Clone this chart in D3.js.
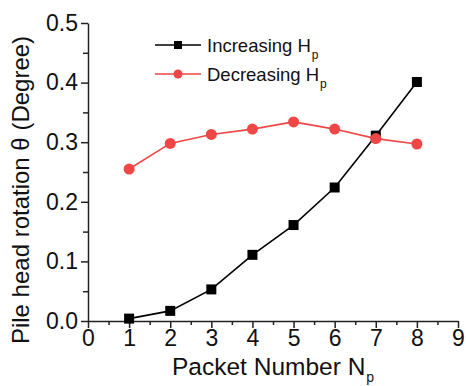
<!DOCTYPE html>
<html>
<head>
<meta charset="utf-8">
<script src="https://cdn.jsdelivr.net/npm/d3@7"></script>
<style>
  body { margin: 0; background: #fff; }
  text { font-family: "Liberation Sans", Arial, sans-serif; fill: #111; }
</style>
</head>
<body>
<svg id="chart" width="466" height="386"></svg>
<script>
// values
const packets = [1, 2, 3, 4, 5, 6, 7, 8];
const increasing = [0.004, 0.017, 0.053, 0.111, 0.161, 0.224, 0.311, 0.401];
const decreasing = [0.255, 0.298, 0.313, 0.322, 0.334, 0.322, 0.306, 0.297];
const xTicks = [0, 1, 2, 3, 4, 5, 6, 7, 8, 9];
const yTicks = [0.0, 0.1, 0.2, 0.3, 0.4, 0.5];

const svg = d3.select("#chart");
const mLeft = 88, mRight = 458, mTop = 23, mBottom = 321;

const x = d3.scaleLinear().domain([0, 9]).range([mLeft, mRight]);
const y = d3.scaleLinear().domain([0, 0.5]).range([mBottom, mTop]);

const red = "#f04646";

// minor ticks
const xAxisMinor = d3.axisBottom(x).tickValues(d3.range(0.5, 9, 1)).tickSize(4).tickFormat("");
const yAxisMinor = d3.axisLeft(y).tickValues(d3.range(0.05, 0.5, 0.1)).tickSize(5).tickFormat("");

svg.append("g")
  .attr("transform", `translate(0,${mBottom})`)
  .call(xAxisMinor)
  .call(g => g.select(".domain").remove())
  .selectAll("line").attr("stroke", "#222").attr("stroke-width", 1.3);

svg.append("g")
  .attr("transform", `translate(${mLeft},0)`)
  .call(yAxisMinor)
  .call(g => g.select(".domain").remove())
  .selectAll("line").attr("stroke", "#222").attr("stroke-width", 1.3);

const xAxis = d3.axisBottom(x).tickValues(xTicks).tickSize(7).tickSizeOuter(0).tickPadding(2)
  .tickFormat(d3.format("d"));
const yAxis = d3.axisLeft(y).tickValues(yTicks).tickSize(7).tickSizeOuter(0).tickPadding(3)
  .tickFormat(d3.format(".1f"));

const gx = svg.append("g")
  .attr("transform", `translate(0,${mBottom})`)
  .call(xAxis);
gx.selectAll("text").style("font-size", "23px").attr("fill", "#111");

const gy = svg.append("g")
  .attr("transform", `translate(${mLeft},0)`)
  .call(yAxis);
gy.selectAll("text").style("font-size", "23px").attr("fill", "#111");

svg.selectAll(".domain, .tick line").attr("stroke", "#222").attr("stroke-width", 1.5);

// axis titles
svg.append("text")
  .attr("transform", "translate(29,190) rotate(-90)")
  .attr("text-anchor", "middle")
  .style("font-size", "24px")
  .text("Pile head rotation θ (Degree)");

const xt = svg.append("text")
  .attr("x", 172)
  .attr("y", 375)
  .style("font-size", "24.5px");
xt.append("tspan").text("Packet Number N");
xt.append("tspan").attr("dx", 1).attr("dy", 7).style("font-size", "14px").text("p");

// lines
const line = d3.line().x((d, i) => x(packets[i])).y(d => y(d));

svg.append("path")
  .datum(decreasing)
  .attr("d", line)
  .attr("fill", "none")
  .attr("stroke", red)
  .attr("stroke-width", 1.6);

svg.append("path")
  .datum(increasing)
  .attr("d", line)
  .attr("fill", "none")
  .attr("stroke", "#000")
  .attr("stroke-width", 1.6);

svg.selectAll(".sq")
  .data(increasing)
  .enter()
  .append("rect")
  .attr("class", "sq")
  .attr("x", (d, i) => x(packets[i]) - 5)
  .attr("y", d => y(d) - 5)
  .attr("width", 10)
  .attr("height", 10)
  .attr("fill", "#000");

svg.selectAll(".dot")
  .data(decreasing)
  .enter()
  .append("circle")
  .attr("class", "dot")
  .attr("cx", (d, i) => x(packets[i]))
  .attr("cy", d => y(d))
  .attr("r", 5.5)
  .attr("fill", red);

// legend
const legend = [
  { name: "Increasing H", color: "#000", shape: "square" },
  { name: "Decreasing H", color: red, shape: "circle" }
];

legend.forEach((s, i) => {
  const ly = 45 + i * 29;
  const g = svg.append("g");
  g.append("line")
    .attr("x1", 155).attr("x2", 201)
    .attr("y1", ly).attr("y2", ly)
    .attr("stroke", s.color).attr("stroke-width", 1.6);
  if (s.shape === "square") {
    g.append("rect").attr("x", 174).attr("y", ly - 4).attr("width", 8).attr("height", 8).attr("fill", s.color);
  } else {
    g.append("circle").attr("cx", 178).attr("cy", ly).attr("r", 4.5).attr("fill", s.color);
  }
  const t = g.append("text")
    .attr("x", 207)
    .attr("y", ly + 7)
    .style("font-size", "18.5px");
  t.append("tspan").text(s.name);
  t.append("tspan").attr("dx", 1).attr("dy", 7).style("font-size", "12px").text("p");
});
</script>
</body>
</html>
